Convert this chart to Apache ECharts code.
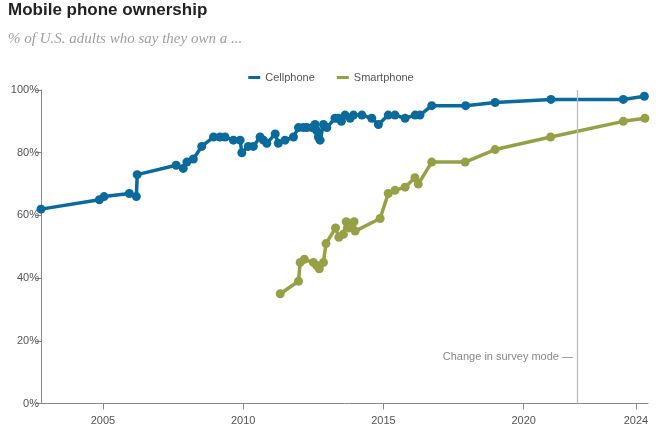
<!DOCTYPE html>
<html>
<head>
<meta charset="utf-8">
<script src="https://cdn.jsdelivr.net/npm/echarts@6/dist/echarts.min.js"></script>
<style>
  html, body { margin: 0; padding: 0; background: #fff; }
  #chart { width: 662px; height: 444px; }
</style>
</head>
<body>
<div id="chart"></div>
<script>
// Survey dates (decimal years) and % of U.S. adults
const cellYears = [2002.79, 2004.87, 2005.04, 2005.94, 2006.19, 2006.22, 2007.61, 2007.86, 2007.99, 2008.22,
  2008.52, 2008.94, 2009.17, 2009.35, 2009.65, 2009.89, 2009.95, 2010.18, 2010.36, 2010.6,
  2010.72, 2010.84, 2011.14, 2011.25, 2011.49, 2011.79, 2011.97, 2012.14, 2012.27, 2012.45,
  2012.56, 2012.62, 2012.68, 2012.74, 2012.86, 2012.98, 2013.27, 2013.39, 2013.5, 2013.63,
  2013.81, 2013.93, 2014.23, 2014.58, 2014.82, 2015.17, 2015.41, 2015.77, 2016.13, 2016.3,
  2016.72, 2017.93, 2018.98, 2020.97, 2023.55, 2024.3];
const cellValues = [62, 65, 66, 67, 66, 73, 76, 75, 77, 78,
  82, 85, 85, 85, 84, 84, 80, 82, 82, 85,
  84, 83, 86, 83, 84, 85, 88, 88, 88, 88,
  89, 87, 85, 84, 89, 88, 91, 91, 90, 92,
  91, 92, 92, 91, 89, 92, 92, 91, 92, 92,
  95, 95, 96, 97, 97, 98];

const smartYears = [2011.32, 2011.97, 2012.03, 2012.18, 2012.5, 2012.62, 2012.71, 2012.86, 2012.95, 2013.29,
  2013.41, 2013.57, 2013.67, 2013.78, 2013.95, 2013.99, 2014.88, 2015.17, 2015.41, 2015.77,
  2016.12, 2016.24, 2016.72, 2017.91, 2018.98, 2020.96, 2023.55, 2024.32];
const smartValues = [35, 39, 45, 46, 45, 44, 43, 45, 51, 56,
  53, 54, 58, 56, 58, 55, 59, 67, 68, 69,
  72, 70, 77, 77, 81, 85, 90, 91];

const xTickYears = [2005, 2010, 2015, 2020, 2024];
const yTicks = [0, 20, 40, 60, 80, 100];
const surveyModeChange = 2021.9;
const surveyModeLabel = 'Change in survey mode —';

const seriesNames = ['Cellphone', 'Smartphone'];
const colors = ['#0b6a9c', '#97a044'];

const zip = (xs, ys) => xs.map((x, i) => [x, ys[i]]);

const chart = echarts.init(document.getElementById('chart'));
const font = 'Liberation Sans, Arial, sans-serif';

chart.setOption({
  animation: false,
  title: [
    { text: 'Mobile phone ownership', left: 8, top: 2, padding: 0,
      textStyle: { fontFamily: font, fontWeight: 'bold', fontSize: 17, color: '#222' } },
    { text: '% of U.S. adults who say they own a ...', left: 8, top: 32, padding: 0,
      textStyle: { fontFamily: 'Liberation Serif, serif', fontStyle: 'italic', fontWeight: 'normal', fontSize: 15, color: '#a0a0a0' } }
  ],
  legend: {
    top: 67, left: 'center',
    data: seriesNames,
    icon: 'rect', itemWidth: 12, itemHeight: 3, itemGap: 22,
    textStyle: { fontFamily: font, fontSize: 11, color: '#555' }
  },
  grid: { left: 41, right: 14, top: 90, bottom: 40.5, containLabel: false },
  xAxis: {
    type: 'value',
    min: 2002.79, max: 2024.43,
    axisLine: { show: true, lineStyle: { color: '#888' } },
    axisTick: { show: true, length: 6, customValues: xTickYears, lineStyle: { color: '#888' } },
    axisLabel: { customValues: xTickYears, margin: 12, fontFamily: font, fontSize: 11, color: '#555',
      formatter: v => String(v) },
    splitLine: { show: false }
  },
  yAxis: {
    type: 'value', min: 0, max: 100, interval: 20,
    axisLine: { show: true, lineStyle: { color: '#888' } },
    axisTick: { show: true, length: 5, lineStyle: { color: '#888' } },
    axisLabel: { margin: 2, fontFamily: font, fontSize: 11, color: '#555', formatter: v => v + '%' },
    splitLine: { show: false }
  },
  series: [
    {
      name: seriesNames[0], type: 'line', data: zip(cellYears, cellValues),
      color: colors[0], symbol: 'circle', symbolSize: 9, showAllSymbol: true,
      lineStyle: { width: 3.5, color: colors[0] }, itemStyle: { color: colors[0] },
      z: 3,
      markLine: {
        silent: true, symbol: 'none',
        lineStyle: { color: '#bbb', type: 'solid', width: 1.3 },
        label: { show: false },
        data: [{ xAxis: surveyModeChange }]
      }
    },
    {
      name: seriesNames[1], type: 'line', data: zip(smartYears, smartValues),
      color: colors[1], symbol: 'circle', symbolSize: 9, showAllSymbol: true,
      lineStyle: { width: 3.5, color: colors[1] }, itemStyle: { color: colors[1] },
      z: 3
    }
  ]
});

const p = chart.convertToPixel({ gridIndex: 0 }, [surveyModeChange, 14.8]);
chart.setOption({
  graphic: [{
    type: 'text', x: p[0] - 4, y: p[1],
    style: { text: surveyModeLabel, align: 'right', verticalAlign: 'middle',
      fontFamily: font, fontSize: 11, fill: '#888' }
  }]
});
</script>
</body>
</html>
